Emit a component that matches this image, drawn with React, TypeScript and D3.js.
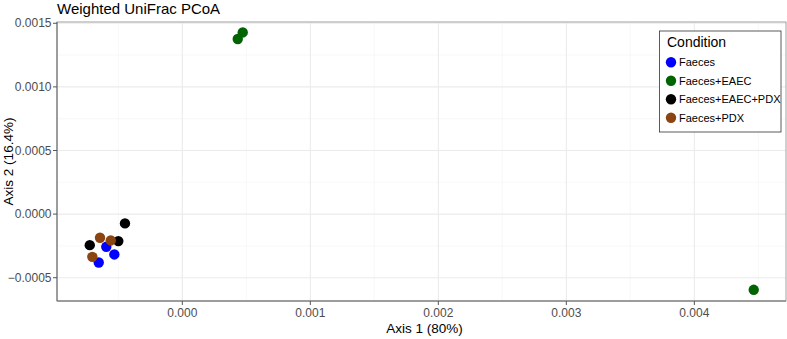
import React from "react";
import * as d3 from "d3";

const conditions = ["Faeces", "Faeces+EAEC", "Faeces+EAEC+PDX", "Faeces+PDX"];
const colors = ["#0000FF", "#006400", "#000000", "#8B4513"];

const sampleCondition = [
  "Faeces", "Faeces", "Faeces",
  "Faeces+EAEC", "Faeces+EAEC", "Faeces+EAEC",
  "Faeces+EAEC+PDX", "Faeces+EAEC+PDX", "Faeces+EAEC+PDX",
  "Faeces+PDX", "Faeces+PDX", "Faeces+PDX",
];
const axis1 = [
  -0.000594, -0.000531, -0.000653,
  0.000433, 0.000472, 0.004464,
  -0.000448, -0.000723, -0.0005,
  -0.000643, -0.000559, -0.000703,
];
const axis2 = [
  -0.000257, -0.000317, -0.00038,
  0.001376, 0.001428, -0.000595,
  -0.000073, -0.000244, -0.000212,
  -0.000186, -0.000207, -0.000336,
];

const xTicks = [0, 0.001, 0.002, 0.003, 0.004];
const yTicks = [-0.0005, 0, 0.0005, 0.001, 0.0015];
const xMinor = [-0.0005, 0.0005, 0.0015, 0.0025, 0.0035, 0.0045];
const yMinor = [-0.00025, 0.00025, 0.00075, 0.00125];

const W = 787, H = 339;
const L = 57, R = 786, T = 22, B = 301;
const font = "'Liberation Sans', Arial, Helvetica, sans-serif";

export default function App() {
  const x = d3.scaleLinear().domain([-0.000979, 0.004716]).range([L, R]);
  const y = d3.scaleLinear().domain([-0.000683, 0.00151]).range([B, T]);
  const color = d3.scaleOrdinal<string, string>().domain(conditions).range(colors);
  const fx = d3.format(".3f");
  const fy = (v: number) => d3.format(".4f")(v).replace("-", "\u2212");

  return (
    <svg width={W} height={H} style={{ position: "absolute", left: 0, top: 0, fontFamily: font }}>
      <rect x={0} y={0} width={W} height={H} fill="#fff" />
      <text x={L} y={14} fontSize={15} fill="#000">Weighted UniFrac PCoA</text>
      <rect x={L} y={T} width={R - L} height={B - T} fill="#fff" />
      {xMinor.map((v) => (
        <line key={"xm" + v} x1={x(v)} x2={x(v)} y1={T} y2={B} stroke="#f4f4f4" strokeWidth={0.6} />
      ))}
      {yMinor.map((v) => (
        <line key={"ym" + v} x1={L} x2={R} y1={y(v)} y2={y(v)} stroke="#f4f4f4" strokeWidth={0.6} />
      ))}
      {xTicks.map((v) => (
        <line key={"xg" + v} x1={x(v)} x2={x(v)} y1={T} y2={B} stroke="#ebebeb" strokeWidth={1.1} />
      ))}
      {yTicks.map((v) => (
        <line key={"yg" + v} x1={L} x2={R} y1={y(v)} y2={y(v)} stroke="#ebebeb" strokeWidth={1.1} />
      ))}
      {sampleCondition.map((c, i) => (
        <circle key={"p" + i} cx={x(axis1[i])} cy={y(axis2[i])} r={5.2} fill={color(c)} />
      ))}
      <rect x={L} y={T} width={R - L} height={B - T} fill="none" stroke="#a0a0a0" strokeWidth={1} />
      <line x1={L} x2={L} y1={T} y2={B} stroke="#6a6a6a" strokeWidth={1} />
      <line x1={L} x2={R} y1={B} y2={B} stroke="#6a6a6a" strokeWidth={1} />
      {xTicks.map((v) => (
        <g key={"xt" + v}>
          <line x1={x(v)} x2={x(v)} y1={B} y2={B + 4} stroke="#555" />
          <text x={x(v)} y={B + 16} fontSize={12} textAnchor="middle" fill="#4d4d4d">{fx(v)}</text>
        </g>
      ))}
      {yTicks.map((v) => (
        <g key={"yt" + v}>
          <line x1={L - 4} x2={L} y1={y(v)} y2={y(v)} stroke="#555" />
          <text x={L - 5.5} y={y(v) + 4.2} fontSize={12} textAnchor="end" fill="#4d4d4d">{fy(v)}</text>
        </g>
      ))}
      <text x={(L + R) / 2 + 3} y={333} fontSize={13.5} textAnchor="middle" fill="#000">Axis 1 (80%)</text>
      <text transform={`translate(13,${(T + B) / 2}) rotate(-90)`} fontSize={13.5} textAnchor="middle" fill="#000">Axis 2 (16.4%)</text>
      <g>
        <rect x={659.5} y={31} width={121.5} height={101} fill="#fff" stroke="#333" strokeWidth={0.8} />
        <text x={667} y={47} fontSize={14} fill="#000">Condition</text>
        {conditions.map((c, i) => (
          <g key={"lg" + c}>
            <circle cx={671} cy={62.3 + i * 18.5} r={5.2} fill={color(c)} />
            <text x={679} y={62.3 + i * 18.5 + 4} fontSize={11} fill="#000">{c}</text>
          </g>
        ))}
      </g>
    </svg>
  );
}
